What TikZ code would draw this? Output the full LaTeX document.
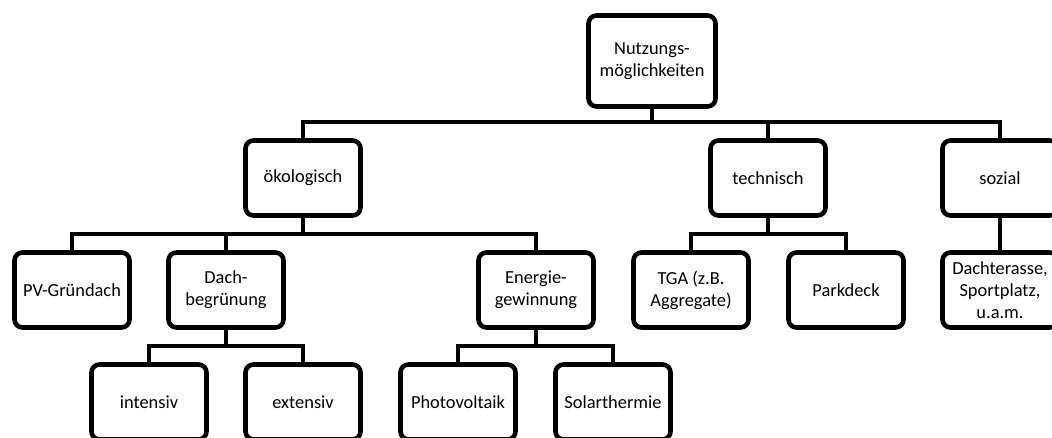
\documentclass[tikz,border=0pt]{standalone}
\usepackage{fontspec}
\setmainfont{Carlito}
\begin{document}
\begin{tikzpicture}[x=1pt,y=-1pt,
  box/.style={draw=black, line width=4.6pt, rounded corners=8pt, minimum width=115pt, minimum height=75pt, inner sep=2pt, align=center, font=\fontsize{18.4}{22}\selectfont},
  rootbox/.style={box, minimum width=127pt, minimum height=91pt},
  conn/.style={draw=black, line width=4pt}]
\useasboundingbox (0,0) rectangle (1052,438);
\node[rootbox] (root) at (652,61) {Nutzungs-\\möglichkeiten};
\node[box] (oek) at (303,178) {ökologisch};
\node[box] (tech) at (768,178) {technisch};
\node[box] (soz) at (1000,178) {sozial};
\node[box] (pv) at (72,290) {PV-Gründach};
\node[box] (dach) at (226,290) {Dach-\\begrünung};
\node[box] (energ) at (536,290) {Energie-\\gewinnung};
\node[box] (tga) at (691,290) {TGA (z.B.\\Aggregate)};
\node[box] (park) at (846,290) {Parkdeck};
\node[box] (dt) at (1000,290) {Dachterasse,\\Sportplatz,\\u.a.m.};
\node[box] (int) at (149,402) {intensiv};
\node[box] (ext) at (303,402) {extensiv};
\node[box] (pho) at (458,402) {Photovoltaik};
\node[box] (sol) at (613,402) {Solarthermie};
\coordinate (b1) at (0,122);
\coordinate (b2) at (0,234);
\coordinate (b3) at (0,346);
\draw[conn] (root.south) -- (root.south |- b1);
\draw[conn] (oek.north) -- (oek.north |- b1) -- (soz.north |- b1) -- (soz.north);
\draw[conn] (tech.north) -- (tech.north |- b1);
\draw[conn] (oek.south) -- (oek.south |- b2);
\draw[conn] (pv.north) -- (pv.north |- b2) -- (energ.north |- b2) -- (energ.north);
\draw[conn] (dach.north) -- (dach.north |- b2);
\draw[conn] (tech.south) -- (tech.south |- b2);
\draw[conn] (tga.north) -- (tga.north |- b2) -- (park.north |- b2) -- (park.north);
\draw[conn] (soz.south) -- (dt.north);
\draw[conn] (dach.south) -- (dach.south |- b3);
\draw[conn] (int.north) -- (int.north |- b3) -- (ext.north |- b3) -- (ext.north);
\draw[conn] (energ.south) -- (energ.south |- b3);
\draw[conn] (pho.north) -- (pho.north |- b3) -- (sol.north |- b3) -- (sol.north);
\end{tikzpicture}
\end{document}
